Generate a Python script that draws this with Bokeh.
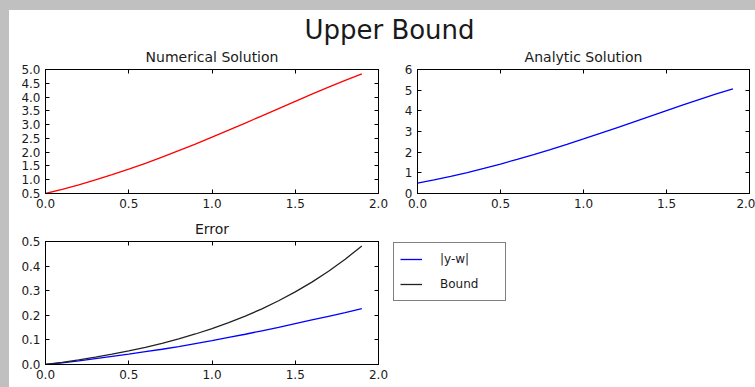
from bokeh.plotting import figure
from bokeh.layouts import column, row
from bokeh.models import (Range1d, FixedTicker, PrintfTickFormatter, LinearAxis,
                          Legend, LegendItem, Spacer, Div, CustomLabelingPolicy)
from bokeh.embed import file_html
from bokeh.resources import INLINE

# Euler's method on y' = y - t^2 + 1, y(0) = 0.5, step 0.1
t = [0.0, 0.1, 0.2, 0.3, 0.4, 0.5, 0.6, 0.7, 0.8, 0.9,
     1.0, 1.1, 1.2, 1.3, 1.4, 1.5, 1.6, 1.7, 1.8, 1.9]
w_numerical = [0.500, 0.650, 0.814, 0.991, 1.182, 1.384, 1.597, 1.821, 2.054, 2.295,
               2.544, 2.798, 3.057, 3.319, 3.582, 3.844, 4.103, 4.357, 4.604, 4.840]
y_analytic = [0.500, 0.657, 0.829, 1.015, 1.214, 1.426, 1.649, 1.883, 2.127, 2.380,
              2.641, 2.908, 3.180, 3.455, 3.732, 4.009, 4.284, 4.553, 4.815, 5.067]
abs_error = [0.000, 0.007, 0.015, 0.024, 0.033, 0.042, 0.052, 0.062, 0.073, 0.085,
             0.097, 0.110, 0.123, 0.137, 0.151, 0.166, 0.181, 0.196, 0.211, 0.227]
error_bound = [0.000, 0.009, 0.019, 0.030, 0.042, 0.055, 0.070, 0.086, 0.104, 0.124,
               0.146, 0.170, 0.197, 0.226, 0.259, 0.295, 0.335, 0.379, 0.428, 0.482]

x_ticks = [0.0, 0.5, 1.0, 1.5, 2.0]
num_ticks = [0.5, 1.0, 1.5, 2.0, 2.5, 3.0, 3.5, 4.0, 4.5, 5.0]
ana_ticks = [0, 1, 2, 3, 4, 5, 6]
err_ticks = [0.0, 0.1, 0.2, 0.3, 0.4, 0.5]

FONT = "DejaVu Sans"
INK = "#1a1a1a"
GRAY = "#c0c0c0"

# mirrored axes show tick marks only, no labels
NO_LABELS = "for (const i of Array.from(indices)) { indices.unset(i) }; return indices"


def make_panel(title, frame_w, frame_h, y_lo, y_hi, y_ticks, y_fmt,
               left, right, top, bottom):
    p = figure(frame_width=frame_w, frame_height=frame_h, x_range=Range1d(0, 2),
               y_range=Range1d(y_lo, y_hi), output_backend="svg",
               toolbar_location=None, min_border_left=left,
               min_border_right=right, min_border_top=top,
               min_border_bottom=bottom, background_fill_color="white",
               border_fill_color="white")
    p.title.text = title
    p.title.align = "center"
    p.title.text_font = FONT
    p.title.text_font_size = "14px"
    p.title.text_font_style = "normal"
    p.title.text_color = INK
    p.title.standoff = 1
    p.xgrid.visible = False
    p.ygrid.visible = False
    p.outline_line_color = "black"
    p.outline_line_width = 1

    p.xaxis.ticker = FixedTicker(ticks=x_ticks)
    p.xaxis.formatter = PrintfTickFormatter(format="%.1f")
    p.yaxis.ticker = FixedTicker(ticks=y_ticks)
    p.yaxis.formatter = PrintfTickFormatter(format=y_fmt)
    for ax in (p.xaxis[0], p.yaxis[0]):
        ax.major_tick_in = 4
        ax.major_tick_out = 0
        ax.minor_tick_line_color = None
        ax.axis_line_color = "black"
        ax.major_tick_line_color = "black"
        ax.major_label_text_font = FONT
        ax.major_label_text_font_size = "12px"
        ax.major_label_text_color = INK
        ax.major_label_standoff = 5

    for side, ticks in (("above", x_ticks), ("right", y_ticks)):
        ax = LinearAxis(ticker=FixedTicker(ticks=ticks), major_tick_in=4,
                        major_tick_out=0, minor_tick_line_color=None,
                        axis_line_color="black", major_tick_line_color="black",
                        major_label_text_font_size="1px", major_label_standoff=0,
                        major_label_policy=CustomLabelingPolicy(code=NO_LABELS))
        p.add_layout(ax, side)
    return p


header = Div(text="Upper Bound", width=746, height=36, margin=0,
             styles={"font-family": FONT, "font-size": "26px", "color": INK,
                     "text-align": "center", "line-height": "40px",
                     "background-color": "white", "overflow": "visible",
                     "padding-left": "15px", "box-sizing": "border-box"})

p_num = make_panel("Numerical Solution", 333, 124, 0.5, 5.0, num_ticks, "%.1f",
                   36, 12, 23, 20)
p_num.line(t, w_numerical, line_color="#ff0000", line_width=1.3)

p_ana = make_panel("Analytic Solution", 332, 124, 0, 6, ana_ticks, "%d",
                   27, 6, 23, 20)
p_ana.line(t, y_analytic, line_color="#0000ff", line_width=1.3)

p_err = make_panel("Error", 333, 123, 0.0, 0.5, err_ticks, "%.1f",
                   36, 0, 28, 23)
r_err = p_err.line(t, abs_error, line_color="#0000ff", line_width=1.3)
r_bnd = p_err.line(t, error_bound, line_color="#222222", line_width=1.3)

legend = Legend(items=[LegendItem(label="|y-w|", renderers=[r_err]),
                       LegendItem(label="Bound", renderers=[r_bnd])],
                location=(-228, 63), margin=0, padding=6, spacing=5,
                glyph_width=22, glyph_height=20, label_height=20, label_width=59,
                label_standoff=18, label_text_font=FONT, label_text_font_size="12px",
                label_text_color=INK, border_line_color="black", border_line_width=1,
                background_fill_color="white", background_fill_alpha=1.0)
p_err.add_layout(legend, "right")

top_band = Spacer(width=755, height=10, styles={"background-color": GRAY})
left_band = Spacer(width=9, height=377, styles={"background-color": GRAY})

body = column(header, row(p_num, p_ana, spacing=0), p_err, spacing=0)
page = column(top_band, row(left_band, body, spacing=0), spacing=0)

html = file_html(page, INLINE, title="Upper Bound")
html = html.replace("<body>", '<body style="margin:0;background:white;">')
open("out.html", "w").write(html)
